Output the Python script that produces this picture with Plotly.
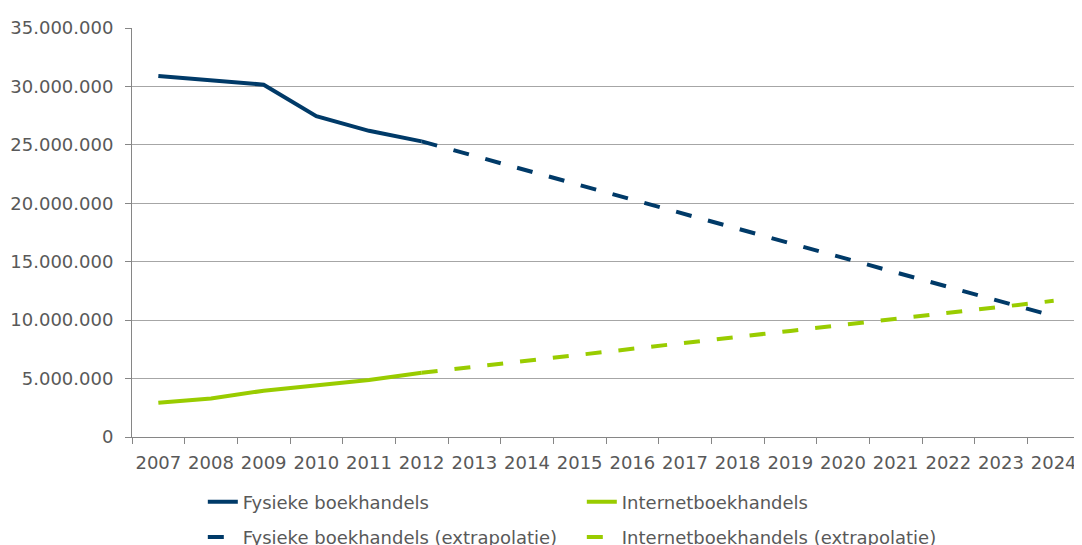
import plotly.graph_objects as go

years = [str(y) for y in range(2007, 2025)]
hist_years = years[:6]          # 2007-2012
extra_years = years[5:]         # 2012-2024

fysiek = [30.9e6, 30.55e6, 30.15e6, 27.45e6, 26.2e6, 25.3e6]
internet = [2.93e6, 3.3e6, 3.96e6, 4.38e6, 4.88e6, 5.5e6]

fysiek_extra = [25.3e6, 24.05e6, 22.8e6, 21.55e6, 20.3e6, 19.05e6, 17.8e6,
                16.55e6, 15.3e6, 14.1e6, 12.85e6, 11.6e6, 10.35e6]
internet_extra = [5.5e6, 6.0e6, 6.5e6, 7.02e6, 7.53e6, 8.05e6, 8.56e6,
                  9.08e6, 9.6e6, 10.1e6, 10.62e6, 11.13e6, 11.65e6]

names = ["Fysieke boekhandels", "Internetboekhandels",
         "Fysieke boekhandels (extrapolatie)", "Internetboekhandels (extrapolatie)"]

BLUE = "#003a68"
GREEN = "#99cc00"
GREY_TXT = "#595959"
GRID = "#a6a6a6"

fig = go.Figure()
fig.add_trace(go.Scatter(x=hist_years, y=fysiek, mode="lines", name=names[0],
                         line=dict(color=BLUE, width=4), legend="legend"))
fig.add_trace(go.Scatter(x=hist_years, y=internet, mode="lines", name=names[1],
                         line=dict(color=GREEN, width=4), legend="legend"))
fig.add_trace(go.Scatter(x=extra_years, y=fysiek_extra, mode="lines", name=names[2],
                         line=dict(color=BLUE, width=4, dash="16px,17px"),
                         legend="legend2"))
fig.add_trace(go.Scatter(x=extra_years, y=internet_extra, mode="lines", name=names[3],
                         line=dict(color=GREEN, width=4, dash="16px,17px"),
                         legend="legend2"))

leg_common = dict(orientation="h", x=0.0747, xanchor="left", yanchor="top",
                  yref="container", entrywidth=334,
                  font=dict(size=18, color=GREY_TXT), bgcolor="rgba(0,0,0,0)")

# page body has an 8px default margin, so the figure is 8px smaller
fig.update_layout(
    width=1074, height=537,
    margin=dict(l=124, r=2, t=20, b=108),
    plot_bgcolor="white", paper_bgcolor="white",
    separators=",.",
    font=dict(family="DejaVu Sans", size=18, color=GREY_TXT),
    showlegend=True,
    legend=dict(y=0.1142, **leg_common),
    legend2=dict(y=0.049, **leg_common),
    xaxis=dict(type="category", categoryorder="array", categoryarray=years,
               range=[-0.5, 17.5], tickson="boundaries", ticks="outside",
               ticklen=6, tickcolor="#868686", showline=True, linecolor="#868686",
               linewidth=1, showgrid=False, tickfont=dict(size=18, color=GREY_TXT),
               tickangle=0, ticklabelstandoff=9, automargin=False, fixedrange=True),
    yaxis=dict(range=[0, 35e6], dtick=5e6, tick0=0, tickformat=",d",
               ticks="outside", ticklen=6, tickcolor="#868686",
               showline=True, linecolor="#868686", linewidth=1,
               showgrid=True, gridcolor=GRID, gridwidth=1, zeroline=False,
               tickfont=dict(size=18, color=GREY_TXT), ticklabelstandoff=8,
               automargin=False, fixedrange=True),
)

fig.write_html("out.html")
